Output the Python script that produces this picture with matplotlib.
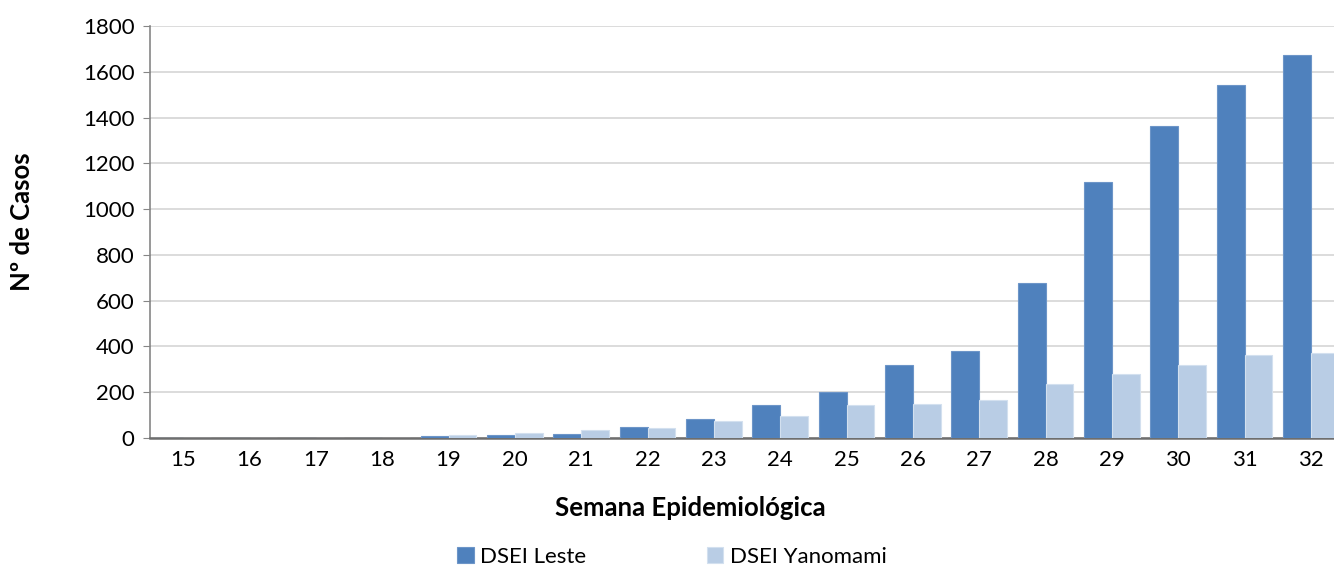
import matplotlib.pyplot as plt
import numpy as np

# semanas epidemiologicas e casos por DSEI
semanas = ["15", "16", "17", "18", "19", "20", "21", "22", "23",
           "24", "25", "26", "27", "28", "29", "30", "31", "32"]
leste = [0, 0, 0, 0, 8, 15, 18, 46, 85, 142, 201, 321, 379, 677, 1117, 1362, 1544, 1673]
yanomami = [0, 0, 0, 0, 14, 22, 37, 43, 76, 97, 143, 147, 165, 237, 279, 318, 363, 373]

plt.rcParams["font.family"] = ["Lato", "DejaVu Sans"]

fig = plt.figure(figsize=(13.34, 5.66), dpi=100)
ax = fig.add_axes([150 / 1334, 1 - 438 / 566, 1194 / 1334, 412 / 566])

x = np.arange(len(semanas))
w = 0.422
ax.bar(x - w / 2, leste, w, color="#4F81BD", edgecolor="#6d95c8", linewidth=0.8,
       label="DSEI Leste", zorder=3)
ax.bar(x + w / 2, yanomami, w, color="#B9CDE5", edgecolor="#d3e0ef", linewidth=0.8,
       label="DSEI Yanomami", zorder=3)

ax.set_xlim(-0.5, len(semanas) - 0.5)
ax.set_ylim(0, 1800)
ax.set_yticks(range(0, 1801, 200))
ax.set_xticks(x)
ax.set_xticklabels(semanas)
ax.tick_params(axis="x", length=0, labelsize=16, pad=9)
ax.tick_params(axis="y", length=5, color="#868686", labelsize=16, pad=6, direction="out")

ax.grid(axis="y", color="#d9d9d9", linewidth=1.3, zorder=0)
for s in ["top", "right"]:
    ax.spines[s].set_visible(False)
ax.spines["left"].set_color("#868686")
ax.spines["left"].set_linewidth(1.2)
ax.spines["bottom"].set_color("#6e6e6e")
ax.spines["bottom"].set_linewidth(1.8)

ax.set_xlabel("Semana Epidemiológica", fontsize=18.5, fontweight="bold")
ax.set_ylabel("Nº de Casos", fontsize=18.5, fontweight="bold")
ax.xaxis.set_label_coords((690 - 150) / 1194, -(508 - 438) / 412)
ax.xaxis.label.set_va("center")
ax.yaxis.set_label_coords(-(150 - 22) / 1194, (438 - 222) / 412)
ax.yaxis.label.set_va("center")

fig.legend(loc="center", bbox_to_anchor=(672 / 1334, 1 - 557 / 566), ncol=2,
           frameon=False, fontsize=16, handlelength=0.75, handleheight=0.75,
           columnspacing=5.4, handletextpad=0.3)

fig.savefig("out.png", dpi=100)
